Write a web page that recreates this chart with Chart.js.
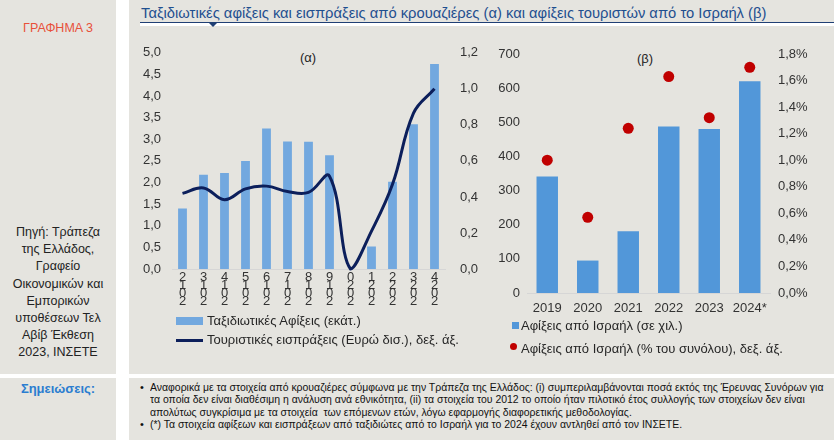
<!DOCTYPE html>
<html>
<head>
<meta charset="utf-8">
<script src="https://cdn.jsdelivr.net/npm/chart.js@4.4.1/dist/chart.umd.min.js"></script>
<style>
  body { margin:0; background:#fff; font-family:"Liberation Sans", Arial, sans-serif; }
  #wrap { position:relative; width:834px; height:440px; overflow:hidden; background:#fff; }
  .panel { position:absolute; background:#e5e4df; }
  .txt { position:absolute; white-space:nowrap; color:#262626; }
  canvas { position:absolute; }
</style>
</head>
<body>
<div id="wrap">
  <div class="panel" style="left:0;top:0;width:116px;height:374px"></div>
  <div class="panel" style="left:129px;top:0;width:705px;height:374px"></div>
  <div class="panel" style="left:0;top:378px;width:116px;height:62px"></div>
  <div class="panel" style="left:129px;top:378px;width:705px;height:62px"></div>

  <div class="txt" style="left:0;width:116px;top:21px;text-align:center;font-size:12.5px;color:#e8503a">ΓΡΑΦΗΜΑ 3</div>

  <div class="txt" id="title" style="left:141px;top:5px;font-size:14.75px;color:#1f4f8f">Ταξιδιωτικές αφίξεις και εισπράξεις από κρουαζιέρες (α) και αφίξεις τουριστών από το Ισραήλ (β)</div>
  <div style="position:absolute;left:140px;top:22px;width:694px;height:1px;background:#1f3f74"></div>
  <div style="position:absolute;left:140px;top:23px;width:694px;height:3px;background:#fff"></div>
  <div style="position:absolute;left:209px;top:23px;width:0;height:0;border-left:4px solid transparent;border-right:4px solid transparent;border-top:4px solid #1f3f74"></div>

  <div id="source" class="txt" style="left:0;width:116px;top:224px;text-align:center;font-size:12.5px;line-height:17.2px;white-space:normal;color:#222"></div>

  <div class="txt" style="left:300px;top:50px;font-size:13px">(α)</div>
  <div class="txt" style="left:637px;top:51px;font-size:13px">(β)</div>

  <canvas id="chartA" width="370" height="280" style="left:130px;top:30px;width:370px;height:280px"></canvas>
  <canvas id="chartB" width="344" height="290" style="left:490px;top:30px;width:344px;height:290px"></canvas>

  <div style="position:absolute;left:176px;top:317px;width:27px;height:8px;background:#72a8df"></div>
  <div class="txt" id="legA1" style="left:207px;top:313px;font-size:13px"></div>
  <div style="position:absolute;left:176px;top:339px;width:27px;height:3px;background:#0c1f5b"></div>
  <div class="txt" id="legA2" style="left:207px;top:332px;font-size:13px"></div>

  <div style="position:absolute;left:512px;top:322px;width:7px;height:7px;background:#5297d9"></div>
  <div class="txt" id="legB1" style="left:521px;top:318px;font-size:13px"></div>
  <div style="position:absolute;left:510px;top:343px;width:7px;height:7px;border-radius:50%;background:#c00000"></div>
  <div class="txt" id="legB2" style="left:521px;top:341px;font-size:13px"></div>

  <div class="txt" style="left:0;width:116px;top:381px;text-align:center;font-size:13px;font-weight:bold;color:#2b7dd0">Σημειώσεις:</div>
  <div id="notes"></div>
</div>
<script>
// (α) κρουαζιέρες
const yearsA = [2012, 2013, 2014, 2015, 2016, 2017, 2018, 2019, 2020, 2021, 2022, 2023, 2024];
const cruiseArrivals = [1.40, 2.18, 2.22, 2.50, 3.25, 2.95, 2.94, 2.63, 0.00, 0.52, 2.02, 3.35, 4.74];
const cruiseReceipts = [0.42, 0.45, 0.385, 0.445, 0.46, 0.43, 0.425, 0.515, 0.00, 0.21, 0.47, 0.865, 1.00];

// (β) Ισραήλ
const yearsB = ['2019', '2020', '2021', '2022', '2023', '2024*'];
const israelArrivals = [341, 95, 181, 488, 480, 620];
const israelShare = [1.00, 0.57, 1.24, 1.63, 1.32, 1.70];

const legendA = ['Ταξιδιωτικές Αφίξεις (εκάτ.)', 'Τουριστικές εισπράξεις (Ευρώ δισ.), δεξ. άξ.'];
const legendB = ['Αφίξεις από Ισραήλ (σε χιλ.)', 'Αφίξεις από Ισραήλ (% του συνόλου), δεξ. άξ.'];
const sourceText = 'Πηγή: Τράπεζα<br>της Ελλάδος,<br>Γραφείο<br>Οικονομικών και<br>Εμπορικών<br>υποθέσεων Τελ<br>Αβίβ Έκθεση<br>2023, ΙΝΣΕΤΕ';
const notes = [
  ['•', 'Αναφορικά με τα στοιχεία από κρουαζιέρες σύμφωνα με την Τράπεζα της Ελλάδος: (i) συμπεριλαμβάνονται ποσά εκτός της Έρευνας Συνόρων για'],
  ['', 'τα οποία δεν είναι διαθέσιμη η ανάλυση ανά εθνικότητα, (ii) τα στοιχεία του 2012 το οποίο ήταν πιλοτικό έτος συλλογής των στοιχείων δεν είναι'],
  ['', 'απολύτως συγκρίσιμα με τα στοιχεία  των επόμενων ετών, λόγω εφαρμογής διαφορετικής μεθοδολογίας.'],
  ['•', '(*) Τα στοιχεία αφίξεων και εισπράξεων από ταξιδιώτες από το Ισραήλ για το 2024 έχουν αντληθεί από τον ΙΝΣΕΤΕ.']
];

const $ = id => document.getElementById(id);
const comma1 = v => v.toFixed(1).replace('.', ',');
const FONT = '"Liberation Sans", Arial, sans-serif';
const TICK = '#333333';

$('source').innerHTML = sourceText;
$('legA1').textContent = legendA[0]; $('legA2').textContent = legendA[1];
$('legB1').textContent = legendB[0]; $('legB2').textContent = legendB[1];

const notesEl = $('notes');
notes.forEach((n, i) => {
  const top = 380.5 + i * 12.5;
  if (n[0]) notesEl.insertAdjacentHTML('beforeend', `<div class="txt" style="left:140px;top:${top}px;font-size:11px;color:#111">${n[0]}</div>`);
  notesEl.insertAdjacentHTML('beforeend', `<div class="txt" style="left:150px;top:${top}px;font-size:11px;color:#111;white-space:pre;transform:scaleX(0.95);transform-origin:left top">${n[1]}</div>`);
});

Chart.defaults.font.family = FONT;
Chart.defaults.color = TICK;

new Chart($('chartA'), {
  type: 'bar',
  data: {
    labels: yearsA.map(y => String(y).split('').reverse()),
    datasets: [
      { type:'line', data:cruiseReceipts, yAxisID:'y1', borderColor:'#0c1f5b', borderWidth:3,
        tension:0.4, pointRadius:0, clip:6, order:1 },
      { data:cruiseArrivals, yAxisID:'y', backgroundColor:'#72a8df', barPercentage:0.42,
        categoryPercentage:1, order:2 }
    ]
  },
  options: {
    responsive:false, animation:false,
    layout:{ padding:{ top:18, bottom:0, left:0, right:0 } },
    plugins:{ legend:{display:false}, tooltip:{enabled:false} },
    scales:{
      x:{ grid:{display:false, drawTicks:false}, border:{display:true, color:'#d6d6d6'},
          ticks:{ font:{size:13, lineHeight:0.62}, color:TICK, maxRotation:0, autoSkip:false, padding:4 },
          afterFit: s => { s.height = 41; } },
      y:{ min:0, max:5, grid:{display:false, drawTicks:false}, border:{display:false},
          ticks:{ stepSize:0.5, font:{size:13}, color:TICK, padding:11, callback:v => comma1(v) },
          afterFit: s => { s.width = 42; } },
      y1:{ position:'right', min:0, max:1.2, grid:{display:false, drawTicks:false}, border:{display:false},
          ticks:{ stepSize:0.2, font:{size:13}, color:TICK, padding:15, callback:v => comma1(v) },
          afterFit: s => { s.width = 55; } }
    }
  }
});

new Chart($('chartB'), {
  type: 'bar',
  data: {
    labels: yearsB,
    datasets: [
      { type:'line', data:israelShare, yAxisID:'y1', showLine:false, pointRadius:5.5,
        pointBackgroundColor:'#c00000', pointBorderWidth:0, order:1 },
      { data:israelArrivals, yAxisID:'y', backgroundColor:'#5297d9', barPercentage:0.53,
        categoryPercentage:1, order:2 }
    ]
  },
  options: {
    responsive:false, animation:false,
    layout:{ padding:{ top:24, bottom:0, left:0, right:0 } },
    plugins:{ legend:{display:false}, tooltip:{enabled:false} },
    scales:{
      x:{ grid:{display:false, drawTicks:false}, border:{display:true, color:'#d6d6d6'},
          ticks:{ font:{size:13}, color:TICK, maxRotation:0, autoSkip:false, padding:8 },
          afterFit: s => { s.height = 27; } },
      y:{ min:0, max:700, grid:{display:false, drawTicks:false}, border:{display:false},
          ticks:{ stepSize:100, font:{size:13}, color:TICK, padding:7 },
          afterFit: s => { s.width = 37; } },
      y1:{ position:'right', min:0, max:1.8, grid:{display:false, drawTicks:false}, border:{display:false},
          ticks:{ stepSize:0.2, font:{size:13}, color:TICK, padding:8, callback:v => comma1(v) + '%' },
          afterFit: s => { s.width = 64; } }
    }
  }
});
</script>
</body>
</html>
